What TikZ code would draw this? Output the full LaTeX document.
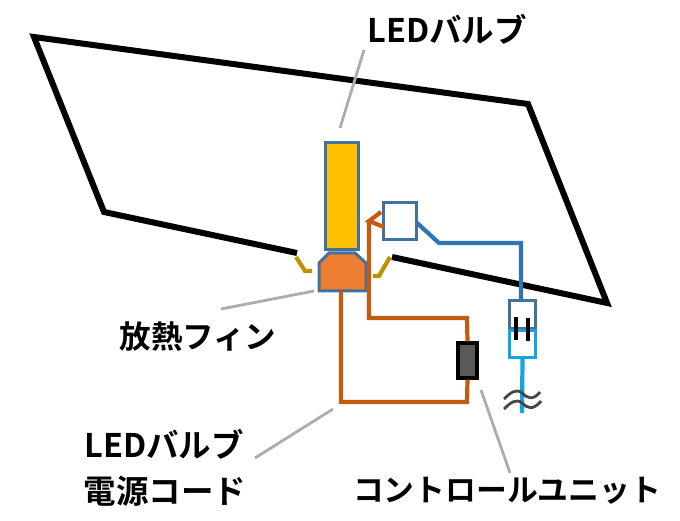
\documentclass[tikz,border=0pt]{standalone}
\usepackage{fontspec}
\setmainfont{Noto Sans CJK JP}[BoldFont={Noto Sans CJK JP Bold}]
\definecolor{cblue}{HTML}{41719C}
\definecolor{wire}{HTML}{C55A11}
\definecolor{bulb}{HTML}{FFC000}
\definecolor{fin}{HTML}{ED7D31}
\definecolor{clip}{HTML}{BF9000}
\definecolor{lblue}{HTML}{2E75B6}
\definecolor{sky}{HTML}{11A5E4}
\definecolor{unit}{HTML}{595959}
\definecolor{lead}{HTML}{AFABAB}
\tikzset{
  lbl/.style={inner sep=0pt,font=\fontsize{#1}{36}\selectfont\bfseries,text=black},
  wireline/.style={draw=wire,line width=4.2pt,line join=miter},
  leadline/.style={draw=lead,line width=2.8pt},
  bluebox/.style={draw=cblue,line width=3pt},
  frameline/.style={draw=black,line width=6pt,line join=miter},
}
\begin{document}
\begin{tikzpicture}[x=1pt,y=-1pt]
\useasboundingbox (0,0) rectangle (680,521);
% frame
\draw[frameline] (297,253) -- (104,212) -- (34,37) -- (528,104) -- (607,303) -- (392,257);
% clips
\draw[draw=clip,line width=4.2pt] (296,257) -- (305,271) -- (312,271);
\draw[draw=clip,line width=4.2pt] (390,257) -- (379,276) -- (373,276);
% wires
\coordinate (tipA) at (369,221);
\coordinate (w1) at (369,318);
\coordinate (w2) at (467,318);
\coordinate (w3) at (467,402);
\coordinate (w4) at (341,402);
\node[draw=black,fill=unit,line width=3.2pt,minimum width=19pt,minimum height=35pt,inner sep=0pt] (ctrl) at (467.5,360.5) {};
\node[bluebox,fill=bulb,minimum width=33pt,minimum height=107pt,inner sep=0pt] (led) at (341.5,196.5) {};
\draw[bluebox,fill=fin,line join=miter] (329,253) -- (319,263) -- (319,291) -- (366,291) -- (366,263) -- (355,253) -- cycle;
\coordinate (finbottom) at (341,291);
\node[bluebox,fill=white,minimum width=33pt,minimum height=37pt,inner sep=0pt] (sw) at (399.5,221) {};
\draw[wireline] (finbottom) -- (w4) -- (w3) -- (ctrl.south);
\draw[wireline] (ctrl.north) -- (w2) -- (w1) -- (tipA);
\draw[wireline] (381,212) -- (tipA) -- (384,227);
% blue line
\coordinate (b1) at (439,243);
\coordinate (b2) at (521,243);
\node[draw=cblue,line width=3pt,minimum width=26pt,minimum height=28pt,inner sep=0pt] (plug) at (522.5,315) {};
\node[draw=sky,line width=3pt,minimum width=26pt,minimum height=27pt,inner sep=0pt] (sock) at (522.5,344) {};
\draw[draw=lblue,line width=4.2pt] (416,222) -- (b1) -- (b2) -- (plug.north -| b2);
\coordinate (skyend) at (522,413);
\draw[draw=sky,line width=4.2pt] (sock.south) -- (skyend);
\draw[draw=black,line width=4.2pt] (516,317) -- (516,340);
\draw[draw=black,line width=4.2pt] (528,318) -- (528,341);
\draw[draw=unit!80!black,line width=2.8pt] (504,399) .. controls (510,393) and (516,388) .. (522,393) .. controls (527,398) and (533,401) .. (540,392);
\draw[draw=unit!80!black,line width=2.8pt] (504,409) .. controls (510,403) and (516,398) .. (522,403) .. controls (527,408) and (533,411) .. (541,401);
% labels
\node[lbl=32.5,anchor=center] (t1) at (447,29) {LEDバルブ};
\node[lbl=31.5,anchor=center] (t2) at (198,337) {放熱フィン};
\node[lbl=32.5,anchor=center] (t3) at (164,444) {LEDバルブ};
\node[lbl=32.5,anchor=center] (t4) at (165,491) {電源コード};
\node[lbl=30.8,anchor=center] (t5) at (507,491) {コントロールユニット};
% leaders
\coordinate (l1a) at (364,50); \coordinate (l1b) at (340,128);
\coordinate (l2a) at (221,309); \coordinate (l2b) at (314,291);
\coordinate (l3a) at (255,458); \coordinate (l3b) at (333,409);
\coordinate (l4a) at (510,473); \coordinate (l4b) at (481,390);
\draw[leadline] (l1a) -- (l1b);
\draw[leadline] (l2a) -- (l2b);
\draw[leadline] (l3a) -- (l3b);
\draw[leadline] (l4a) -- (l4b);
\end{tikzpicture}
\end{document}
